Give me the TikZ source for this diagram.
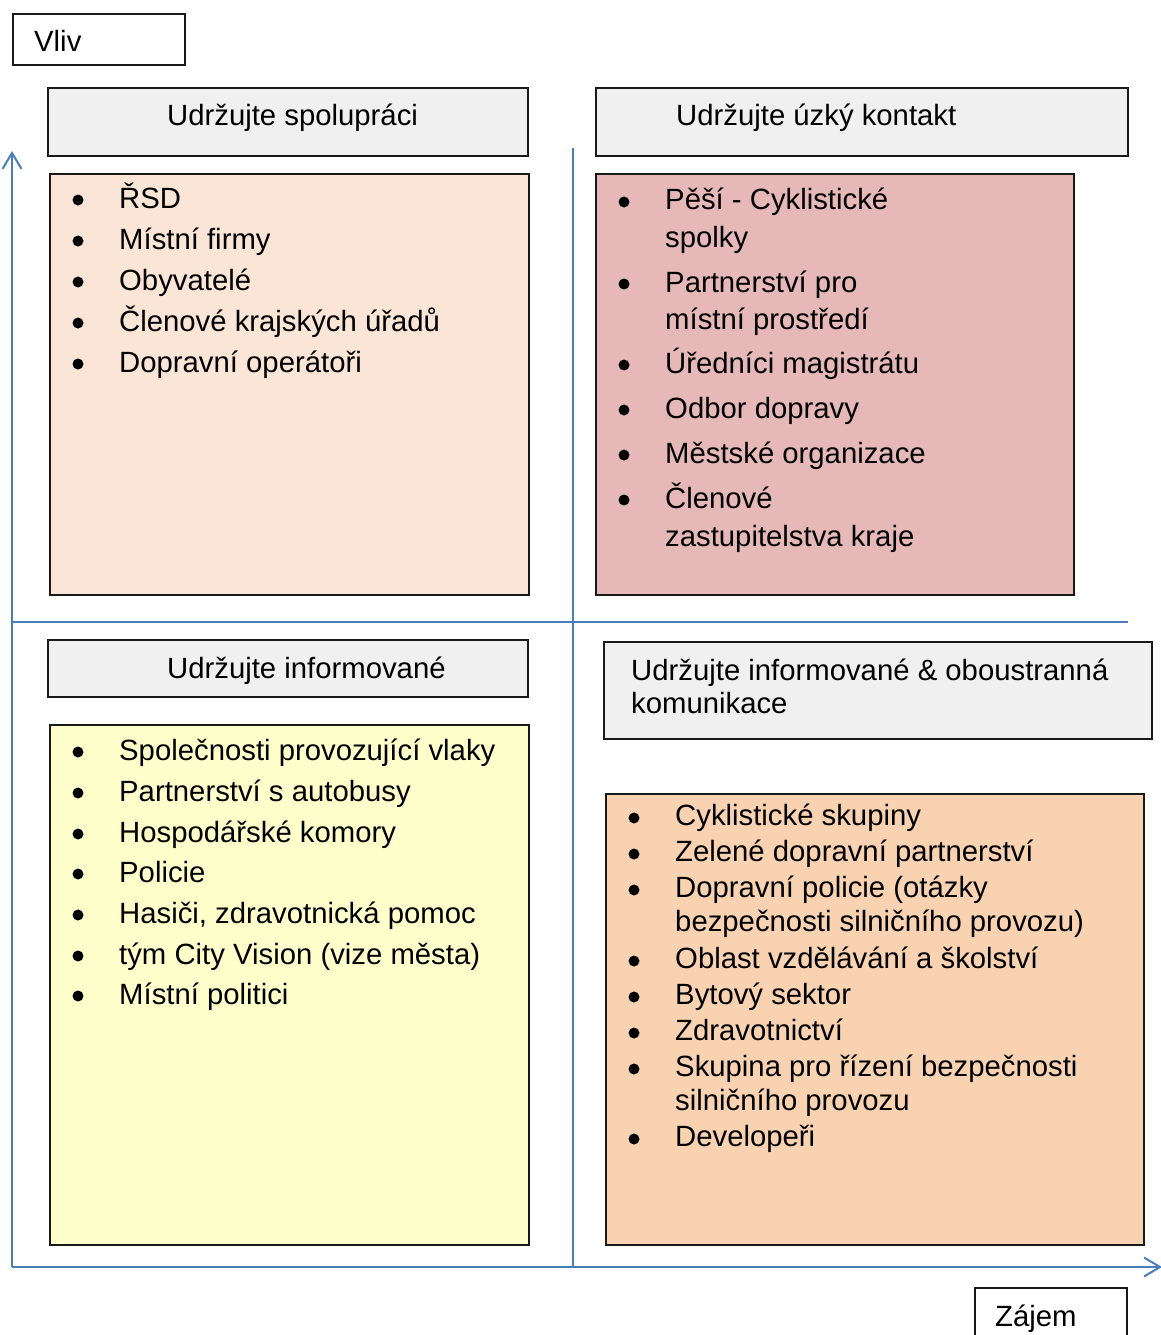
\documentclass[tikz,border=0pt]{standalone}
\usepackage{fontspec}
\setmainfont{Liberation Sans}
\usepackage{tikz}
\usetikzlibrary{arrows.meta}

\definecolor{axisblue}{RGB}{74,126,187}
\definecolor{headgray}{RGB}{240,240,240}
\definecolor{coopfill}{RGB}{251,229,214}
\definecolor{closefill}{RGB}{230,184,183}
\definecolor{infofill}{RGB}{255,255,204}
\definecolor{commfill}{RGB}{249,210,177}

\begin{document}
\begin{tikzpicture}[x=1pt, y=-1pt,
            axis/.style={draw=axisblue, line width=2pt},
            frame/.style={draw=black!90, line width=1.8pt},
            txt/.style={anchor=base west, inner sep=0pt, font=\fontsize{29.3pt}{35pt}\selectfont}]
            \useasboundingbox (0,0) rectangle (1160,1335);

            \coordinate (o) at (12, 1267);
            \coordinate (ytop) at (12, 151);
            \coordinate (xend) at (1162, 1267);
            \coordinate (mtop) at (573, 148);
            \coordinate (mbot) at (573, 1267);
            \coordinate (mleft) at (12, 622);
            \coordinate (mright) at (1128, 622);

            \draw[axis, -{Straight Barb[length=16pt, width=19pt]}] (o) -- (ytop);
            \draw[axis, -{Straight Barb[length=16pt, width=19pt]}] (o) -- (xend);
            \draw[axis] (mtop) -- (mbot);
            \draw[axis] (mleft) -- (mright);

            \draw[frame, fill=white] (13, 14) rectangle (185, 65);
            \node[txt] (vliv) at (34, 52) {Vliv};
            \draw[frame, fill=white] (975, 1288) rectangle (1127, 1350);
            \node[txt] (zajem) at (995, 1326) {Zájem};

            \draw[frame, fill=headgray] (48, 88) rectangle (528, 156);
            \node[txt] (coop) at (167, 126) {Udržujte spolupráci};
            \draw[frame, fill=headgray] (596, 88) rectangle (1128, 156);
            \node[txt] (close) at (676, 126) {Udržujte úzký kontakt};
            \draw[frame, fill=headgray] (48, 640) rectangle (528, 697);
            \node[txt] (info) at (167, 678) {Udržujte informované};
            \draw[frame, fill=headgray] (604, 642) rectangle (1152, 739);
            \node[txt] (comm1) at (631, 680) {Udržujte informované \& oboustranná};
            \node[txt] (comm2) at (631, 713) {komunikace};

            \draw[frame, fill=coopfill] (50, 174) rectangle (529, 595);
            \fill (78, 200) circle (5.5pt);
            \node[txt] (coop1) at (119, 208) {ŘSD};
            \fill (78, 241) circle (5.5pt);
            \node[txt] (coop2) at (119, 249) {Místní firmy};
            \fill (78, 282) circle (5.5pt);
            \node[txt] (coop3) at (119, 290) {Obyvatelé};
            \fill (78, 323) circle (5.5pt);
            \node[txt] (coop4) at (119, 331) {Členové krajských úřadů};
            \fill (78, 364) circle (5.5pt);
            \node[txt] (coop5) at (119, 372) {Dopravní operátoři};

            \draw[frame, fill=closefill] (596, 174) rectangle (1074, 595);
            \fill (624, 202) circle (5.5pt);
            \node[txt] (close1) at (665, 209) {Pěší - Cyklistické};
            \node[txt] (close1b) at (665, 247) {spolky};
            \fill (624, 284) circle (5.5pt);
            \node[txt] (close2) at (665, 292) {Partnerství pro};
            \node[txt] (close2b) at (665, 329) {místní prostředí};
            \fill (624, 365) circle (5.5pt);
            \node[txt] (close3) at (665, 373) {Úředníci magistrátu};
            \fill (624, 410) circle (5.5pt);
            \node[txt] (close4) at (665, 418) {Odbor dopravy};
            \fill (624, 455) circle (5.5pt);
            \node[txt] (close5) at (665, 463) {Městské organizace};
            \fill (624, 500) circle (5.5pt);
            \node[txt] (close6) at (665, 508) {Členové};
            \node[txt] (close6b) at (665, 546) {zastupitelstva kraje};

            \draw[frame, fill=infofill] (50, 725) rectangle (529, 1245);
            \fill (78, 752) circle (5.5pt);
            \node[txt] (info1) at (119, 760) {Společnosti provozující vlaky};
            \fill (78, 793) circle (5.5pt);
            \node[txt] (info2) at (119, 801) {Partnerství s autobusy};
            \fill (78, 834) circle (5.5pt);
            \node[txt] (info3) at (119, 842) {Hospodářské komory};
            \fill (78, 874) circle (5.5pt);
            \node[txt] (info4) at (119, 882) {Policie};
            \fill (78, 915) circle (5.5pt);
            \node[txt] (info5) at (119, 923) {Hasiči, zdravotnická pomoc};
            \fill (78, 956) circle (5.5pt);
            \node[txt] (info6) at (119, 964) {tým City Vision (vize města)};
            \fill (78, 996) circle (5.5pt);
            \node[txt] (info7) at (119, 1004) {Místní politici};

            \draw[frame, fill=commfill] (606, 794) rectangle (1144, 1245);
            \fill (634, 818) circle (5.5pt);
            \node[txt] (comm3) at (675, 825) {Cyklistické skupiny};
            \fill (634, 854) circle (5.5pt);
            \node[txt] (comm4) at (675, 861) {Zelené dopravní partnerství};
            \fill (634, 890) circle (5.5pt);
            \node[txt] (comm5) at (675, 897) {Dopravní policie (otázky};
            \node[txt] (comm5b) at (675, 931) {bezpečnosti silničního provozu)};
            \fill (634, 961) circle (5.5pt);
            \node[txt] (comm6) at (675, 968) {Oblast vzdělávání a školství};
            \fill (634, 997) circle (5.5pt);
            \node[txt] (comm7) at (675, 1004) {Bytový sektor};
            \fill (634, 1033) circle (5.5pt);
            \node[txt] (comm8) at (675, 1040) {Zdravotnictví};
            \fill (634, 1069) circle (5.5pt);
            \node[txt] (comm9) at (675, 1076) {Skupina pro řízení bezpečnosti};
            \node[txt] (comm9b) at (675, 1110) {silničního provozu};
            \fill (634, 1139) circle (5.5pt);
            \node[txt] (comm10) at (675, 1146) {Developeři};

            \end{tikzpicture}
\end{document}
